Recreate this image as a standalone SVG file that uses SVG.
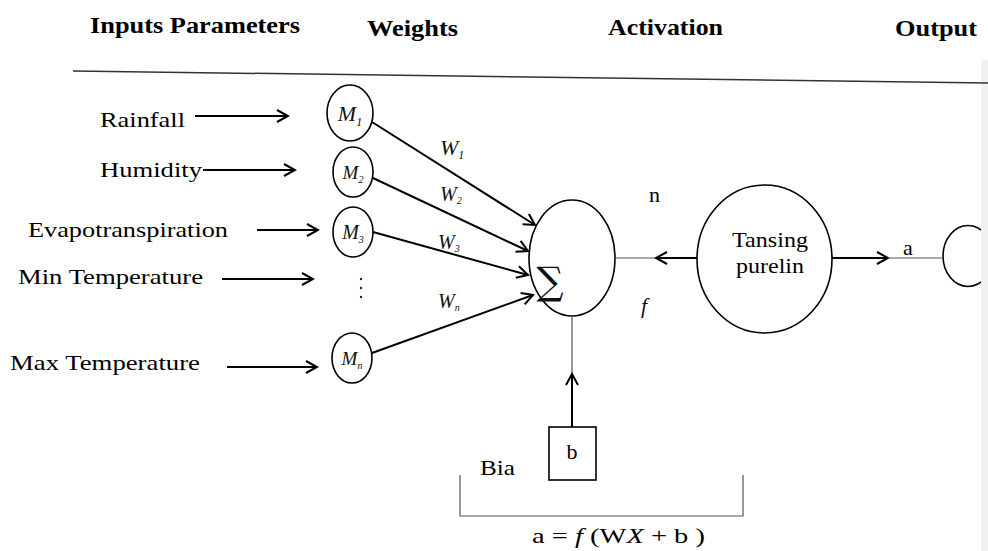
<svg xmlns="http://www.w3.org/2000/svg" width="988" height="551" viewBox="0 0 988 551">
<defs>
<marker id="ah" markerWidth="14" markerHeight="14" refX="12" refY="7" orient="auto" markerUnits="userSpaceOnUse">
<path d="M1,1 L12,7 L1,13" fill="none" stroke="#000" stroke-width="2"/>
</marker>
<style>
.hd{font-family:"Liberation Serif","Times New Roman",serif;font-weight:bold;font-size:23px;fill:#000}
.lb{font-family:"Liberation Serif","Times New Roman",serif;font-size:22px;fill:#000}
.sm{font-family:"Liberation Serif","Times New Roman",serif;font-size:22px;fill:#000}
.it{font-family:"Liberation Serif","Times New Roman",serif;font-style:italic;fill:#111}
.node{fill:#fff;stroke:#000;stroke-width:1.6}
.arr{stroke:#000;stroke-width:2;fill:none;marker-end:url(#ah)}
.thin{stroke:#555;stroke-width:1.2;fill:none}
</style>
</defs>
<rect width="988" height="551" fill="#fff"/>
<rect x="981" y="60" width="7" height="491" fill="#f1f1f1"/>

<g id="headers">
<text class="hd" x="90" y="33" textLength="210" lengthAdjust="spacingAndGlyphs">Inputs Parameters</text>
<text class="hd" x="367" y="36" textLength="91" lengthAdjust="spacingAndGlyphs">Weights</text>
<text class="hd" x="608" y="35" textLength="115" lengthAdjust="spacingAndGlyphs">Activation</text>
<text class="hd" x="895" y="36" textLength="82" lengthAdjust="spacingAndGlyphs">Output</text>
</g>
<line x1="73" y1="71" x2="988" y2="83" stroke="#333" stroke-width="1.5"/>

<g id="inputs">
<text class="lb" x="100" y="127" textLength="85" lengthAdjust="spacingAndGlyphs">Rainfall</text>
<text class="lb" x="100" y="177" textLength="102" lengthAdjust="spacingAndGlyphs">Humidity</text>
<text class="lb" x="28" y="237" textLength="200" lengthAdjust="spacingAndGlyphs">Evapotranspiration</text>
<text class="lb" x="18" y="284" textLength="185" lengthAdjust="spacingAndGlyphs">Min Temperature</text>
<text class="lb" x="10" y="370" textLength="190" lengthAdjust="spacingAndGlyphs">Max Temperature</text>
</g>

<g id="m1"><ellipse class="node" cx="350" cy="113" rx="23" ry="28"/><text class="it" x="350" y="121" font-size="22" text-anchor="middle">M<tspan font-size="12" dy="5">1</tspan></text></g>
<g id="m2"><ellipse class="node" cx="353" cy="172" rx="20" ry="25"/><text class="it" x="353" y="179" font-size="19" text-anchor="middle">M<tspan font-size="10" dy="4">2</tspan></text></g>
<g id="m3"><ellipse class="node" cx="353" cy="232" rx="20" ry="25"/><text class="it" x="353" y="239" font-size="20" text-anchor="middle">M<tspan font-size="10" dy="4">3</tspan></text></g>
<g id="dots"><circle cx="361" cy="279" r="1.2" fill="#222"/><circle cx="361" cy="288" r="1.2" fill="#222"/><circle cx="361" cy="297" r="1.2" fill="#222"/></g>
<g id="mn"><ellipse class="node" cx="352" cy="358" rx="20" ry="25"/><text class="it" x="352" y="365" font-size="19" text-anchor="middle">M<tspan font-size="10" dy="4">n</tspan></text></g>

<g id="weights">
<text class="it" x="440" y="155" font-size="22">W<tspan font-size="12" dy="4">1</tspan></text>
<text class="it" x="440" y="201" font-size="20">W<tspan font-size="10" dy="3">2</tspan></text>
<text class="it" x="438" y="249" font-size="20">W<tspan font-size="10" dy="3">3</tspan></text>
<text class="it" x="438" y="308" font-size="20">W<tspan font-size="10" dy="3">n</tspan></text>
</g>

<g id="sum"><ellipse class="node" cx="572" cy="258" rx="43" ry="58"/><text x="550" y="294" font-family="'DejaVu Serif',serif" font-size="38" text-anchor="middle" fill="#111">∑</text></g>

<g id="tansing"><ellipse class="node" cx="764.5" cy="259" rx="67.5" ry="74"/>
<text class="sm" x="732" y="247" textLength="76" lengthAdjust="spacingAndGlyphs">Tansing</text>
<text class="sm" x="736" y="273" textLength="68" lengthAdjust="spacingAndGlyphs">purelin</text></g>

<g id="output"><ellipse class="node" cx="968" cy="256" rx="25" ry="30.5"/></g>
<rect x="981" y="220" width="7" height="72" fill="#f1f1f1"/>

<g id="bias"><rect class="node" x="549" y="427" width="47" height="53"/><text class="sm" x="572" y="459" text-anchor="middle">b</text></g>

<g id="labels">
<text class="sm" x="649" y="202">n</text>
<text class="it" x="641" y="313" font-size="22">f</text>
<text class="sm" x="903" y="255">a</text>
<text class="sm" x="480" y="475" textLength="35" lengthAdjust="spacingAndGlyphs">Bia</text>
<text class="sm" x="532" y="543" textLength="173" lengthAdjust="spacingAndGlyphs">a = <tspan font-style="italic">f</tspan> (W<tspan font-style="italic">X</tspan>  +  b )</text>
</g>

<g id="connectors">
<line class="arr" x1="195" y1="116" x2="288" y2="116"/>
<line class="arr" x1="203" y1="170" x2="295" y2="170"/>
<line class="arr" x1="257" y1="230" x2="318" y2="230"/>
<line class="arr" x1="222" y1="279" x2="313" y2="279"/>
<line class="arr" x1="227" y1="367" x2="317" y2="367"/>
<line class="arr" x1="372" y1="122" x2="535" y2="225"/>
<line class="arr" x1="373" y1="178" x2="528" y2="251"/>
<line class="arr" x1="373" y1="232" x2="528" y2="275"/>
<line class="arr" x1="372" y1="353" x2="533" y2="295"/>
<line class="thin" x1="615" y1="258" x2="656" y2="258"/>
<line class="arr" x1="697" y1="258" x2="656" y2="258"/>
<line class="arr" x1="832" y1="258" x2="888" y2="258"/>
<line class="thin" x1="888" y1="258" x2="943" y2="258"/>
<line class="thin" x1="572" y1="316" x2="572" y2="374"/>
<line class="arr" x1="572" y1="427" x2="572" y2="374"/>
<polyline class="thin" points="460,475 460,516 743,516 743,475"/>
</g>
</svg>
